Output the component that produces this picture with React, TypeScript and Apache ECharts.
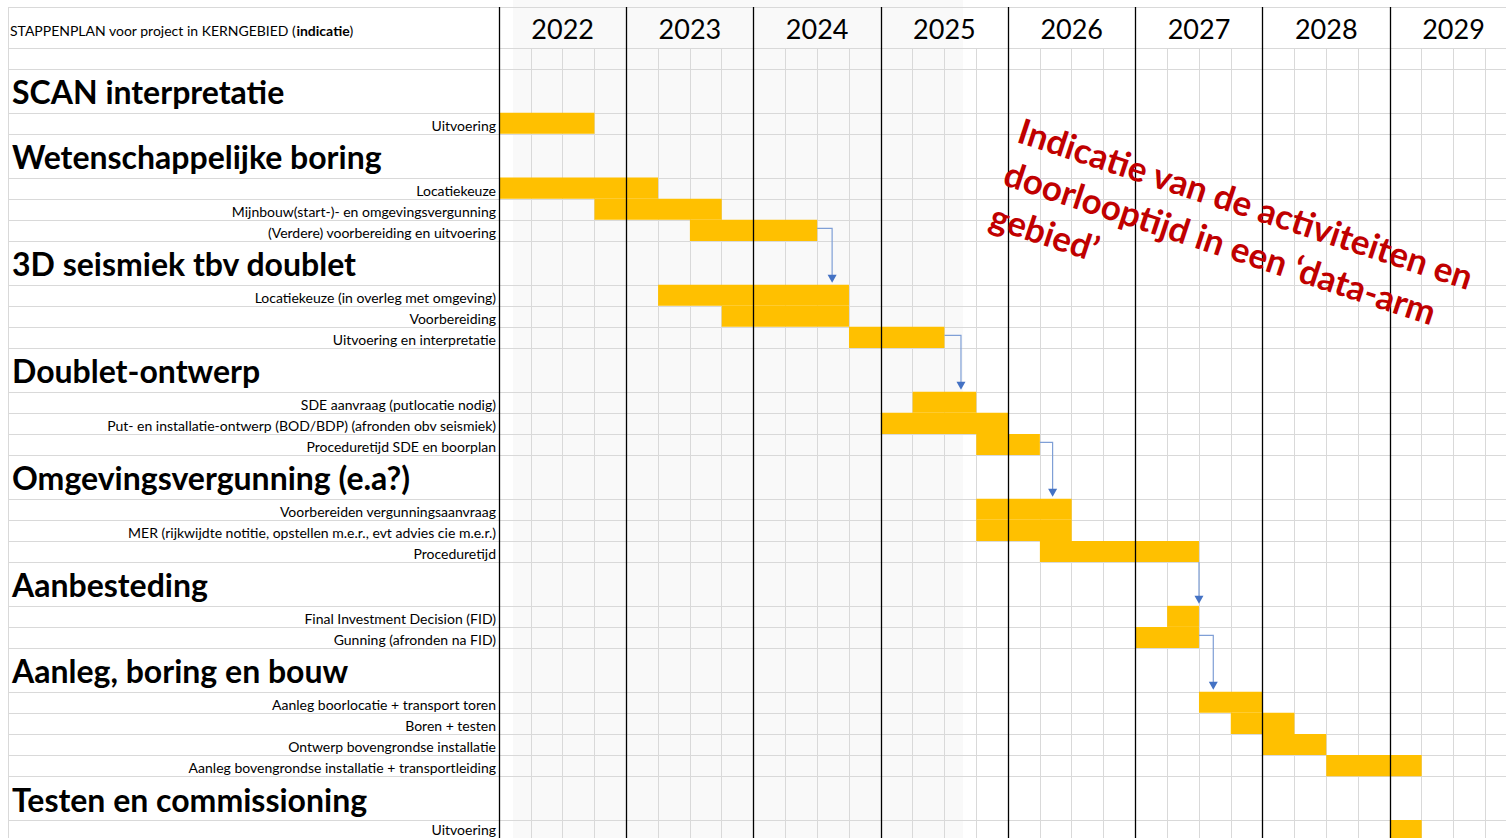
import React, { useEffect, useRef } from "react";
import * as echarts from "echarts";

// ---------- data ----------
const years = ["2022", "2023", "2024", "2025", "2026", "2027", "2028", "2029"];
const titleText = "STAPPENPLAN voor project in KERNGEBIED (";
const titleBold = "indicatie";
const sectionTitles = [
  "SCAN interpretatie",
  "Wetenschappelijke boring",
  "3D seismiek tbv doublet",
  "Doublet-ontwerp",
  "Omgevingsvergunning (e.a?)",
  "Aanbesteding",
  "Aanleg, boring en bouw",
  "Testen en commissioning",
];
const taskNames = [
  "Uitvoering",
  "Locatiekeuze",
  "Mijnbouw(start-)- en omgevingsvergunning",
  "(Verdere) voorbereiding en uitvoering",
  "Locatiekeuze (in overleg met omgeving)",
  "Voorbereiding",
  "Uitvoering en interpretatie",
  "SDE aanvraag (putlocatie nodig)",
  "Put- en installatie-ontwerp (BOD/BDP) (afronden obv seismiek)",
  "Proceduretijd SDE en boorplan",
  "Voorbereiden vergunningsaanvraag",
  "MER (rijkwijdte notitie, opstellen m.e.r., evt advies cie m.e.r.)",
  "Proceduretijd",
  "Final Investment Decision (FID)",
  "Gunning (afronden na FID)",
  "Aanleg boorlocatie + transport toren",
  "Boren + testen",
  "Ontwerp bovengrondse installatie",
  "Aanleg bovengrondse installatie + transportleiding",
  "Uitvoering",
];
const taskSection = [0, 1, 1, 1, 2, 2, 2, 3, 3, 3, 4, 4, 4, 5, 5, 6, 6, 6, 6, 7];
// start / end in quarters counted from 2022-Q1
const taskStart = [0, 0, 3, 6, 5, 7, 11, 13, 12, 15, 15, 15, 17, 21, 20, 22, 23, 24, 26, 28];
const taskEnd = [3, 5, 7, 10, 11, 11, 14, 15, 16, 17, 18, 18, 22, 22, 22, 24, 25, 26, 29, 29];
// dependency arrows: from task -> to task, dropping down at quarter position
const linkFrom = [3, 6, 9, 12, 14];
const linkTo = [4, 7, 10, 13, 15];
const linkDrop = [10.47, 14.52, 17.4, 22, 22.45];
const noteText = "Indicatie van de activiteiten en\ndoorlooptijd in een \u2018data-arm\ngebied\u2019";

// ---------- layout ----------
const FONT = "Lato, 'Noto Sans', sans-serif";
const CANVAS_H = 838;
const GRID_LEFT = 499;
const HEADER_TOP = 7;
const HEADER_H = 41;
const BODY_TOP = HEADER_TOP + HEADER_H;
const BLANK_H = 21;
const SECTION_H = 43.75;
const TASK_H = 21.1;
const X_MAX = 31.65;
const GRID_COLOR = "#d9d9d9";
const BAR_COLOR = "#FFC000";

type Row = { kind: "section" | "task"; idx: number; top: number; bottom: number };

function buildRows() {
  const rows: Row[] = [];
  const taskRow: Row[] = [];
  let cur = BLANK_H;
  sectionTitles.forEach((_, s) => {
    rows.push({ kind: "section", idx: s, top: cur, bottom: cur + SECTION_H });
    cur += SECTION_H;
    taskNames.forEach((__, i) => {
      if (taskSection[i] === s) {
        const r: Row = { kind: "task", idx: i, top: cur, bottom: cur + TASK_H };
        rows.push(r);
        taskRow[i] = r;
        cur += TASK_H;
      }
    });
  });
  return { rows, taskRow, end: cur };
}

export default function App() {
  const ref = useRef<HTMLDivElement>(null);

  useEffect(() => {
    if (!ref.current) return;
    const chart = echarts.init(ref.current, undefined, { renderer: "svg" });
    const { rows, taskRow, end } = buildRows();
    const boundaries = [-HEADER_H, 0, ...rows.map((r) => r.top), end];
    const bodyH = CANVAS_H - BODY_TOP;

    const hiddenAxis = {
      axisLine: { show: false },
      axisTick: { show: false },
      axisLabel: { show: false },
    };

    const option: any = {
      animation: false,
      backgroundColor: "#ffffff",
      title: {
        left: 5,
        top: 18,
        text: `{n|${titleText}}{b|${titleBold}}{n|)}`,
        textStyle: {
          fontWeight: "normal",
          rich: {
            n: { fontFamily: FONT, fontSize: 14, fontWeight: "normal", color: "#000" },
            b: { fontFamily: FONT, fontSize: 14, fontWeight: "bold", color: "#000" },
          },
        },
      },
      grid: [
        { left: GRID_LEFT, right: 0, top: HEADER_TOP, height: HEADER_H },
        { left: GRID_LEFT, right: 0, top: BODY_TOP, height: bodyH },
      ],
      xAxis: [
        {
          gridIndex: 0, type: "value", min: 0, max: X_MAX, interval: 4, z: 5, ...hiddenAxis,
          splitLine: { show: true, showMaxLine: false, lineStyle: { color: "#000", width: 1.3 } },
        },
        {
          gridIndex: 1, type: "value", min: 0, max: X_MAX, interval: 1, z: 0, ...hiddenAxis,
          splitLine: { show: true, showMaxLine: false, lineStyle: { color: GRID_COLOR, width: 1 } },
        },
        {
          gridIndex: 1, type: "value", min: 0, max: X_MAX, interval: 4, z: 5, ...hiddenAxis,
          splitLine: { show: true, showMaxLine: false, lineStyle: { color: "#000", width: 1.3 } },
        },
      ],
      yAxis: [
        { gridIndex: 0, type: "value", min: 0, max: HEADER_H, inverse: true, show: false, splitLine: { show: false } },
        { gridIndex: 1, type: "value", min: 0, max: bodyH, inverse: true, show: false, splitLine: { show: false } },
      ],
      graphic: [
        {
          type: "rect", z: -10, silent: true,
          shape: { x: 513, y: 0, width: 450, height: CANVAS_H },
          style: { fill: "#f9f9f9" },
        },
        {
          type: "line", z: 1, silent: true,
          shape: { x1: 8.5, y1: HEADER_TOP, x2: 8.5, y2: CANVAS_H },
          style: { stroke: GRID_COLOR, lineWidth: 1 },
        },
        {
          type: "text", z: 20, silent: true,
          x: 1027, y: 107, rotation: (-18.2 * Math.PI) / 180,
          style: {
            text: noteText, fill: "#C00000", font: `bold 35px ${FONT}`,
            lineHeight: 45, align: "left", verticalAlign: "top",
          },
        },
      ],
      series: [
        {
          type: "custom", name: "rowlines", xAxisIndex: 1, yAxisIndex: 1, z: 1, silent: true, clip: false,
          data: boundaries.map((b) => [0, b]),
          encode: { x: 0, y: 1 },
          renderItem: (params: any, api: any) => {
            const cs = params.coordSys;
            const yy = Math.round(api.coord([0, api.value(1)])[1]) + 0.5;
            return {
              type: "line",
              shape: { x1: 8, y1: yy, x2: cs.x + cs.width, y2: yy },
              style: { stroke: GRID_COLOR, lineWidth: 1 },
            };
          },
        },
        {
          type: "custom", name: "years", xAxisIndex: 0, yAxisIndex: 0, z: 6, silent: true, clip: false,
          data: years.map((_, i) => [i * 4 + 2, HEADER_H / 2 + 1]),
          encode: { x: 0, y: 1 },
          renderItem: (params: any, api: any) => {
            const p = api.coord([api.value(0), api.value(1)]);
            return {
              type: "text", x: p[0], y: p[1],
              style: { text: years[params.dataIndex], fill: "#000", font: `27px ${FONT}`, align: "center", verticalAlign: "middle" },
            };
          },
        },
        {
          type: "custom", name: "bars", xAxisIndex: 1, yAxisIndex: 1, z: 3, silent: true, clip: false,
          data: taskNames.map((_, i) => [taskStart[i], taskEnd[i], taskRow[i].top, taskRow[i].bottom]),
          encode: { x: [0, 1], y: [2, 3] },
          renderItem: (params: any, api: any) => {
            const p0 = api.coord([api.value(0), api.value(2)]);
            const p1 = api.coord([api.value(1), api.value(3)]);
            return {
              type: "rect",
              shape: { x: p0[0], y: p0[1], width: p1[0] - p0[0], height: p1[1] - p0[1] },
              style: { fill: BAR_COLOR },
            };
          },
        },
        {
          type: "custom", name: "labels", xAxisIndex: 1, yAxisIndex: 1, z: 4, silent: true, clip: false,
          data: rows.map((r) => [0, r.top, r.bottom, r.kind === "section" ? 0 : 1, r.idx]),
          encode: { x: 0, y: [1, 2] },
          renderItem: (params: any, api: any) => {
            const cs = params.coordSys;
            const yMid = (api.coord([0, api.value(1)])[1] + api.coord([0, api.value(2)])[1]) / 2;
            const isSection = api.value(3) === 0;
            const idx = api.value(4);
            if (isSection) {
              return {
                type: "text", x: 12, y: yMid + 1,
                style: { text: sectionTitles[idx], fill: "#000", font: `bold 32px ${FONT}`, align: "left", verticalAlign: "middle" },
              };
            }
            // keep the last (partly visible) row's label inside the picture
            const ty = Math.min(yMid + 2, CANVAS_H - 9);
            return {
              type: "text", x: cs.x - 3, y: ty,
              style: { text: taskNames[idx], fill: "#000", font: `14px ${FONT}`, align: "right", verticalAlign: "middle" },
            };
          },
        },
        {
          type: "custom", name: "links", xAxisIndex: 1, yAxisIndex: 1, z: 7, silent: true, clip: false,
          data: linkFrom.map((f, k) => [
            taskEnd[f], linkDrop[k],
            (taskRow[f].top + taskRow[f].bottom) / 2 - 2,
            taskRow[linkTo[k]].top,
            taskRow[f].bottom,
          ]),
          encode: { x: [0, 1], y: [2, 3] },
          renderItem: (params: any, api: any) => {
            const x0 = api.value(0), xd = api.value(1);
            const straight = Math.abs(xd - x0) < 1e-6;
            const yStart = straight ? api.value(4) : api.value(2);
            const p0 = api.coord([x0, yStart]);
            const p1 = api.coord([xd, yStart]);
            const p2 = api.coord([xd, api.value(3)]);
            const tipY = p2[1] - 2;
            const hl = 8, hw = 4.5;
            return {
              type: "group",
              children: [
                {
                  type: "polyline",
                  shape: { points: [p0, p1, [p2[0], tipY - hl + 1]] },
                  style: { stroke: "#7f9fd6", lineWidth: 1.2, fill: null },
                },
                {
                  type: "polygon",
                  shape: { points: [[p2[0] - hw, tipY - hl], [p2[0] + hw, tipY - hl], [p2[0], tipY]] },
                  style: { fill: "#4472C4" },
                },
              ],
            };
          },
        },
      ],
    };

    chart.setOption(option);
    return () => chart.dispose();
  }, []);

  return (
    <div
      ref={ref}
      style={{ position: "fixed", left: 0, top: 0, width: 1506, height: CANVAS_H, background: "#fff" }}
    />
  );
}
